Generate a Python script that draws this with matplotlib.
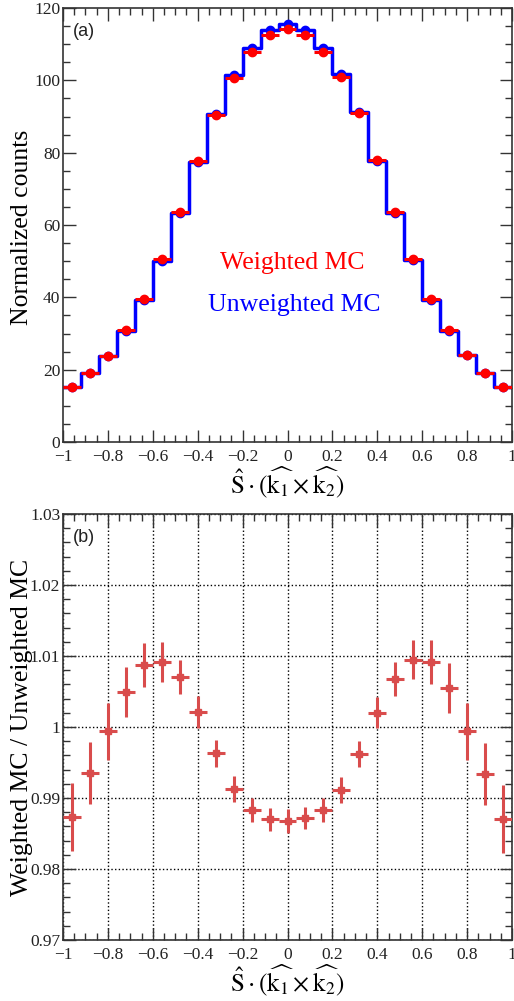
import matplotlib
matplotlib.use("Agg")
import matplotlib.pyplot as plt
from matplotlib.ticker import MultipleLocator
import numpy as np

# bin centres of S.(k1 x k2), 25 bins of width 0.08
x_centers = [-0.96, -0.88, -0.80, -0.72, -0.64, -0.56, -0.48, -0.40, -0.32, -0.24, -0.16, -0.08,
             0.00, 0.08, 0.16, 0.24, 0.32, 0.40, 0.48, 0.56, 0.64, 0.72, 0.80, 0.88, 0.96]
bin_width = 0.08

unweighted = [15.3, 19.2, 23.9, 30.8, 39.3, 50.1, 63.2, 77.5, 90.8, 101.4, 109.0, 113.9,
              115.6, 113.9, 109.0, 101.8, 91.2, 77.7, 63.2, 50.2, 39.3, 30.8, 24.0, 19.1, 15.3]
weighted = [15.1, 19.1, 23.9, 30.95, 39.65, 50.56, 63.64, 77.66, 90.46, 100.52, 107.72, 112.42,
            114.07, 112.44, 107.72, 100.89, 90.85, 77.86, 63.62, 50.68, 39.66, 30.97, 23.99, 18.97, 15.1]

ratio = [0.9873, 0.9935, 0.9994, 1.0049, 1.0088, 1.0092, 1.0070, 1.0021, 0.9963, 0.9913, 0.9883, 0.9870,
         0.9868, 0.9872, 0.9883, 0.9911, 0.9962, 1.0020, 1.0067, 1.0095, 1.0092, 1.0055, 0.9994, 0.9934, 0.9870]
ratio_err = [0.0048, 0.0044, 0.0040, 0.0035, 0.0031, 0.0028, 0.0024, 0.0022, 0.0019, 0.0018, 0.0017, 0.0016,
             0.0017, 0.0016, 0.0017, 0.0018, 0.0019, 0.0022, 0.0024, 0.0028, 0.0031, 0.0035, 0.0040, 0.0044, 0.0048]

plt.rcParams['font.family'] = ['Liberation Serif', 'DejaVu Serif']
plt.rcParams['mathtext.fontset'] = 'stix'

axis_color = '#333333'
xlabel = r'$\hat{\mathrm{S}}\cdot(\widehat{\mathrm{k}_1}\times\widehat{\mathrm{k}_2})$'

X = np.array(x_centers)
edges = np.append(X - bin_width / 2, X[-1] + bin_width / 2)

fig = plt.figure(figsize=(5.14, 10.01), dpi=100)
ax1 = fig.add_axes([0.1226, 0.5584, 0.8735, 0.4336])
ax2 = fig.add_axes([0.1226, 0.0609, 0.8735, 0.4256])


def style_axis(ax):
    for s in ax.spines.values():
        s.set_color(axis_color)
        s.set_linewidth(1.2)
    ax.tick_params(which='both', direction='in', top=True, right=True,
                   colors=axis_color, labelcolor='#222222', labelsize=12.5)
    ax.tick_params(which='major', length=9, width=1.0)
    ax.tick_params(which='minor', length=5, width=1.0)
    ax.tick_params(axis='x', pad=5)
    ax.tick_params(axis='y', pad=2)
    ax.xaxis.set_major_locator(MultipleLocator(0.2))
    ax.xaxis.set_minor_locator(MultipleLocator(0.05))
    ax.set_xlim(-1, 1)
    ax.set_xticks(np.arange(-1, 1.01, 0.2))
    ax.set_xticklabels(['\u22121', '\u22120.8', '\u22120.6', '\u22120.4', '\u22120.2',
                        '0', '0.2', '0.4', '0.6', '0.8', '1'])


# (a) normalized counts
uw_step = np.append(unweighted, unweighted[-1])
ax1.step(edges, uw_step, where='post', color='blue', linewidth=2.5, zorder=2)
ax1.plot(X, unweighted, 'o', color='blue', markersize=6, zorder=3)
ax1.errorbar(X, weighted, xerr=bin_width / 2, fmt='o', color='red', markersize=6,
             elinewidth=2.2, capsize=0, zorder=4)

style_axis(ax1)
ax1.set_ylim(0, 120)
ax1.yaxis.set_major_locator(MultipleLocator(20))
ax1.yaxis.set_minor_locator(MultipleLocator(5))
ax1.set_ylabel('Normalized counts', fontsize=18.5)
ax1.yaxis.set_label_coords(-0.067, 0.495)
ax1.set_xlabel(xlabel, fontsize=18, labelpad=0)
ax1.text(0.022, 0.965, '(a)', transform=ax1.transAxes, ha='left', va='top',
         fontsize=13, family='Liberation Sans', color='#222222')
ax1.text(0.02, 49.5, 'Weighted MC', color='red', fontsize=18.5, ha='center', va='center')
ax1.text(0.03, 38.0, 'Unweighted MC', color='blue', fontsize=18.5, ha='center', va='center')

# (b) ratio
ax2.errorbar(X, ratio, xerr=bin_width / 2, yerr=ratio_err, fmt='s', color='#d94c4c',
             markersize=5, elinewidth=2.2, capsize=0, zorder=3)

style_axis(ax2)
ax2.set_ylim(0.97, 1.03)
ax2.yaxis.set_major_locator(MultipleLocator(0.01))
ax2.yaxis.set_minor_locator(MultipleLocator(0.002))
ax2.set_yticks([0.97, 0.98, 0.99, 1.0, 1.01, 1.02, 1.03])
ax2.set_yticklabels(['0.97', '0.98', '0.99', '1', '1.01', '1.02', '1.03'])
ax2.grid(True, which='major', color='black', linestyle=':', linewidth=1.0)
ax2.set_axisbelow(True)
ax2.set_ylabel('Weighted MC / Unweighted MC', fontsize=18.5)
ax2.yaxis.set_label_coords(-0.067, 0.5)
ax2.set_xlabel(xlabel, fontsize=18, labelpad=0)
ax2.text(0.022, 0.965, '(b)', transform=ax2.transAxes, ha='left', va='top',
         fontsize=13, family='Liberation Sans', color='#222222')

fig.savefig('out.png', dpi=100)
